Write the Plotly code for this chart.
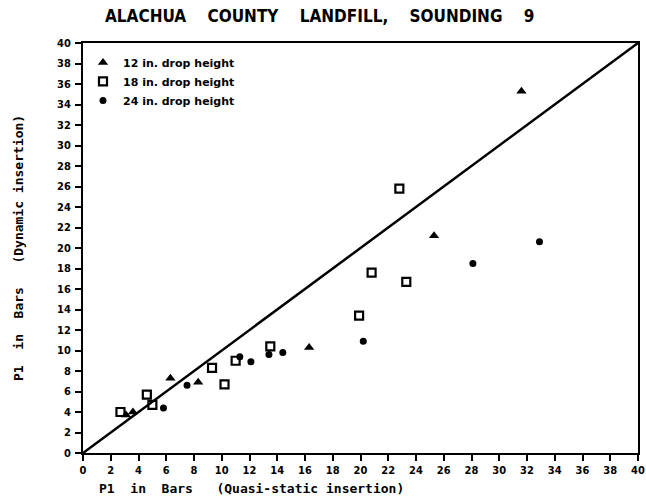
import plotly.graph_objects as go

# 12 in. drop height (triangles)
x12 = [3.1, 3.6, 6.3, 8.3, 16.3, 25.3, 31.6]
y12 = [3.7, 4.0, 7.3, 6.9, 10.3, 21.2, 35.3]
# 18 in. drop height (open squares)
x18 = [2.7, 4.6, 5.0, 9.3, 10.2, 11.0, 13.5, 19.9, 20.8, 22.8, 23.3]
y18 = [4.0, 5.7, 4.7, 8.3, 6.7, 9.0, 10.4, 13.4, 17.6, 25.8, 16.7]
# 24 in. drop height (dots)
x24 = [5.8, 7.5, 11.3, 12.1, 13.4, 14.4, 20.2, 28.1, 32.9]
y24 = [4.4, 6.6, 9.4, 8.9, 9.6, 9.8, 10.9, 18.5, 20.6]
# 1:1 line
line_x = [0, 40]
line_y = [0, 40]

tick_vals = list(range(0, 41, 2))
tick_text = [str(v) for v in tick_vals]

title_text = "ALACHUA&nbsp;&nbsp;&nbsp;&nbsp;COUNTY&nbsp;&nbsp;&nbsp;&nbsp;LANDFILL,&nbsp;&nbsp;&nbsp;&nbsp;SOUNDING&nbsp;&nbsp;&nbsp;&nbsp;9"
xtitle = "P1&nbsp;&nbsp;in&nbsp;&nbsp;Bars&nbsp;&nbsp;&nbsp;(Quasi-static insertion)"
ytitle = "P1&nbsp;&nbsp;in&nbsp;&nbsp;Bars&nbsp;&nbsp;&nbsp;(Dynamic insertion)"

COND = "DejaVu Sans Condensed, DejaVu Sans, sans-serif"

fig = go.Figure()
fig.add_trace(go.Scatter(x=line_x, y=line_y, mode="lines",
                         line=dict(color="black", width=2.5), showlegend=False, hoverinfo="skip"))
fig.add_trace(go.Scatter(x=x12, y=y12, mode="markers", name="<b>12 in. drop height</b>",
                         marker=dict(symbol="triangle-up", size=9, color="black")))
fig.add_trace(go.Scatter(x=x18, y=y18, mode="markers", name="<b>18 in. drop height</b>",
                         marker=dict(symbol="square-open", size=8, color="black",
                                     line=dict(width=2.2, color="black"))))
fig.add_trace(go.Scatter(x=x24, y=y24, mode="markers", name="<b>24 in. drop height</b>",
                         marker=dict(symbol="circle", size=7, color="black")))

axis_common = dict(
    range=[0, 40], tickvals=tick_vals, ticktext=tick_text,
    ticks="outside", ticklen=6, tickwidth=1.5, tickcolor="black",
    showline=True, linecolor="black", linewidth=2, mirror=True,
    showgrid=False, zeroline=False, automargin=False,
    tickfont=dict(family=COND, size=11, color="black", weight="bold"),
)

fig.update_layout(
    width=646, height=499,
    margin=dict(l=83, r=8, t=43, b=46),
    paper_bgcolor="white", plot_bgcolor="white",
    xaxis=dict(**axis_common, ticklabelstandoff=0),
    yaxis=dict(**axis_common, ticklabelstandoff=2),
    showlegend=True,
    legend=dict(x=0.0, y=0.988, xanchor="left", yanchor="top",
                bgcolor="rgba(0,0,0,0)", borderwidth=0,
                font=dict(family="DejaVu Sans, sans-serif", size=11, color="black"),
                itemwidth=30, tracegroupgap=0),
    annotations=[
        dict(text="<b>" + title_text + "</b>", xref="paper", yref="paper", x=0.427, y=1.0,
             yshift=27, xanchor="center", yanchor="middle", showarrow=False,
             font=dict(family=COND, size=17, color="black")),
        dict(text="<b>" + xtitle + "</b>", xref="paper", yref="paper", x=0.025, y=0,
             yshift=-35, xanchor="left", yanchor="middle", showarrow=False,
             font=dict(family="DejaVu Sans Mono, monospace", size=13, color="black")),
        dict(text="<b>" + ytitle + "</b>", xref="paper", yref="paper", x=0, y=0.5,
             xshift=-65, xanchor="center", yanchor="middle", showarrow=False, textangle=-90,
             font=dict(family="DejaVu Sans Mono, monospace", size=13, color="black")),
    ],
)

fig.write_html("out.html", config={"displayModeBar": False},
               post_script="document.body.style.margin='0';")
